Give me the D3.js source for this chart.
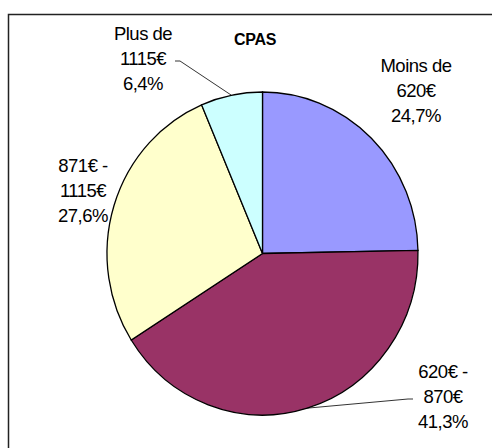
<!DOCTYPE html>
<html>
<head>
<meta charset="utf-8">
<script src="https://cdn.jsdelivr.net/npm/d3@7"></script>
<style>
  body { margin: 0; background: #fff; }
  svg text { font-family: "Liberation Sans", Arial, sans-serif; fill: #000; }
</style>
</head>
<body>
<div id="chart"></div>
<script>
// data
var categories = ["Moins de 620€", "620€ - 870€", "871€ - 1115€", "Plus de 1115€"];
var shares = [24.7, 41.3, 27.6, 6.4];
var labelLines = [
  ["Moins de", "620€", "24,7%"],
  ["620€ -", "870€", "41,3%"],
  ["871€ -", "1115€", "27,6%"],
  ["Plus de", "1115€", "6,4%"]
];
var colors = ["#9999FF", "#993366", "#FFFFCC", "#CCFFFF"];

var width = 492, height = 448;
var cx = 262.5, cy = 253.5;
var rx = 155.5, ry = 161.5;   // pie is slightly taller than wide

var svg = d3.select("#chart").append("svg")
  .attr("width", width)
  .attr("height", height);

// chart border (cut off at right / bottom)
svg.append("rect")
  .attr("x", 8.5).attr("y", 14.5)
  .attr("width", 600).attr("height", 600)
  .attr("fill", "none")
  .attr("stroke", "#222")
  .attr("stroke-width", 1.5);

svg.append("text")
  .attr("x", 255).attr("y", 45)
  .attr("text-anchor", "middle")
  .style("font-size", "16px")
  .style("font-weight", "bold")
  .style("letter-spacing", "-0.3px")
  .text("CPAS");

var pie = d3.pie().sort(null).value(function(d) { return d; });
var arcs = pie(shares);

var arc = d3.arc().innerRadius(0).outerRadius(rx);

var g = svg.append("g")
  .attr("transform", "translate(" + cx + "," + cy + ") scale(1," + (ry / rx) + ")");

g.selectAll("path")
  .data(arcs)
  .enter().append("path")
  .attr("d", arc)
  .attr("fill", function(d, i) { return colors[i]; })
  .attr("stroke", "#000")
  .attr("stroke-width", 1.3)
  .attr("vector-effect", "non-scaling-stroke");

// point on the rim at the middle of a slice
function rimPoint(d) {
  var a = (d.startAngle + d.endAngle) / 2;
  return [cx + rx * Math.sin(a), cy - ry * Math.cos(a)];
}

// label anchors (centre x, first baseline)
var labelPos = [[416, 72], [443, 378], [83, 172], [143, 40]];
var lineStep = 25;

labelLines.forEach(function(lines, i) {
  var t = svg.append("text")
    .attr("text-anchor", "middle")
    .style("font-size", "18.5px")
    .style("letter-spacing", "-0.5px");
  lines.forEach(function(s, j) {
    t.append("tspan")
      .attr("x", labelPos[i][0])
      .attr("y", labelPos[i][1] + j * lineStep)
      .text(s);
  });
});

// leader lines for the two labels that sit away from their slice
var leaders = [
  { i: 1, from: [413, 399], elbow: [408, 399] },
  { i: 3, from: [175, 61], elbow: [180, 61] }
];
leaders.forEach(function(l) {
  var p = rimPoint(arcs[l.i]);
  svg.append("polyline")
    .attr("points", [l.from, l.elbow, p].map(function(q) { return q.join(","); }).join(" "))
    .attr("fill", "none")
    .attr("stroke", "#000")
    .attr("stroke-width", 0.8);
});
</script>
</body>
</html>
